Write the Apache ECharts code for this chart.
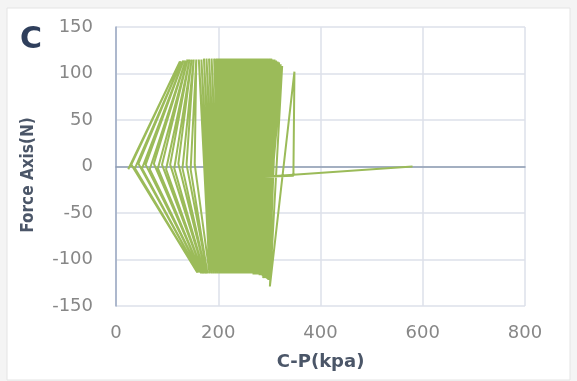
<!DOCTYPE html>
<html>
<head>
<meta charset="utf-8">
<script src="https://cdn.jsdelivr.net/npm/echarts@6/dist/echarts.min.js"></script>
<style>
  html, body { margin: 0; padding: 0; background: #f4f4f4; }
  #chart { width: 577px; height: 381px; }
</style>
</head>
<body>
<div id="chart"></div>
<script>
// C-P (kpa) vs Force Axis (N), in drawing order
var cpValues = [
  24, 125, 30, 159, 37, 128, 44, 161, 51, 132, 58, 164, 66, 136, 74, 167, 82, 140, 90, 170,
  98, 144, 106, 173, 114, 148, 122, 176, 130, 152, 138, 179, 146, 157, 154, 183, 162, 187, 167, 191,
  172, 195, 177, 199, 182, 203, 187, 206, 192, 209, 196, 211,
  199, 203, 202, 206, 205, 209, 208, 212, 211, 215, 214, 218, 217, 221, 220, 224, 223, 227, 226, 230,
  229, 233, 232, 236, 235, 239, 238, 242, 241, 245, 244, 248, 247, 251, 250, 254, 253, 257, 256, 260,
  259, 263, 262, 266, 265, 269, 268, 272, 271, 275, 274, 278, 277, 281, 280, 284, 283, 287, 286, 289,
  289, 291, 292, 293, 295, 294, 298, 295, 301, 296, 304, 297, 307, 298, 310, 299, 313, 300, 316, 296,
  319, 292, 322, 288, 325, 301, 349, 347, 290, 580
];
var forceValues = [
  -3, 113, 2, -114, -2, 113, 3, -114, -2, 114, 2, -114, -3, 114, 3, -115, -2, 115, 2, -115,
  -3, 115, 2, -115, -2, 115, 3, -115, -2, 115, 2, -115, -3, 115, 2, -115, 115, -115, 115, -115,
  116, -115, 116, -115, 116, -115, 116, -115, 116, -115, 116, -115,
  116, -115, 116, -115, 116, -115, 116, -115, 116, -115, 116, -115, 116, -115, 116, -115, 116, -115, 116, -115,
  116, -115, 116, -115, 116, -115, 116, -115, 116, -115, 116, -115, 116, -115, 116, -115, 116, -115, 116, -115,
  116, -115, 116, -115, 116, -116, 116, -116, 116, -116, 116, -116, 116, -117, 116, -117, 116, -118, 116, -118,
  116, -119, 116, -119, 116, -120, 116, -120, 116, -121, 116, -121, 115, -122, 115, -121, 114, -120, 113, -121,
  112, -120, 110, -120, 108, -129, 102, -10, -11, 0
];
var xTicks = [0, 800, 200];     // min, max, step
var yTicks = [-150, 150, 50];

var chart = echarts.init(document.getElementById('chart'));

var points = cpValues.map(function (x, i) { return [x, forceValues[i]]; });

var labelFont = {
  color: '#878787',
  fontFamily: 'DejaVu Sans',
  fontSize: 18
};

var option = {
  animation: false,
  graphic: [
    {
      type: 'rect',
      z: -10,
      shape: { x: 7, y: 8, width: 563, height: 372 },
      style: { fill: '#ffffff', stroke: '#e4e4e4', lineWidth: 1 }
    },
    {
      type: 'text',
      left: 20,
      top: 25,
      style: {
        text: 'C',
        fill: '#2f3f5c',
        font: 'bold 30px "DejaVu Sans"'
      }
    },
    {
      type: 'text',
      x: 29,
      y: 175,
      rotation: Math.PI / 2,
      style: {
        text: 'Force Axis(N)',
        fill: '#4b5668',
        font: 'bold 17px "DejaVu Sans Condensed"',
        align: 'center',
        verticalAlign: 'middle'
      }
    }
  ],
  grid: {
    left: 116,
    right: 52,
    top: 27,
    bottom: 75
  },
  xAxis: [
    {
      type: 'value',
      min: xTicks[0],
      max: xTicks[1],
      interval: xTicks[2],
      name: 'C-P(kpa)',
      nameLocation: 'middle',
      nameGap: 47,
      nameTextStyle: {
        color: '#4b5668',
        fontFamily: 'DejaVu Sans',
        fontWeight: 'bold',
        fontSize: 18
      },
      axisLine: { show: false, onZero: false },
      axisTick: { show: false },
      axisLabel: Object.assign({ margin: 18 }, labelFont),
      splitLine: { lineStyle: { color: '#dce1ea', width: 1.5 } }
    },
    {
      // axis line crossing at force = 0
      type: 'value',
      min: xTicks[0],
      max: xTicks[1],
      interval: xTicks[2],
      position: 'bottom',
      axisLine: { show: true, onZero: true, lineStyle: { color: '#8d9cb3', width: 1.5 } },
      axisTick: { show: false },
      axisLabel: { show: false },
      splitLine: { show: false }
    }
  ],
  yAxis: {
    type: 'value',
    min: yTicks[0],
    max: yTicks[1],
    interval: yTicks[2],
    axisLine: { show: true, onZero: false, lineStyle: { color: '#9aa9c2', width: 1.5 } },
    axisTick: { show: false },
    axisLabel: Object.assign({ margin: 23 }, labelFont),
    splitLine: { lineStyle: { color: '#dce1ea', width: 1.5 } }
  },
  series: [
    {
      type: 'line',
      xAxisIndex: 0,
      data: points,
      showSymbol: false,
      symbol: 'none',
      lineStyle: { color: '#9bbb59', width: 2 },
      z: 3
    }
  ]
};

chart.setOption(option);
</script>
</body>
</html>
